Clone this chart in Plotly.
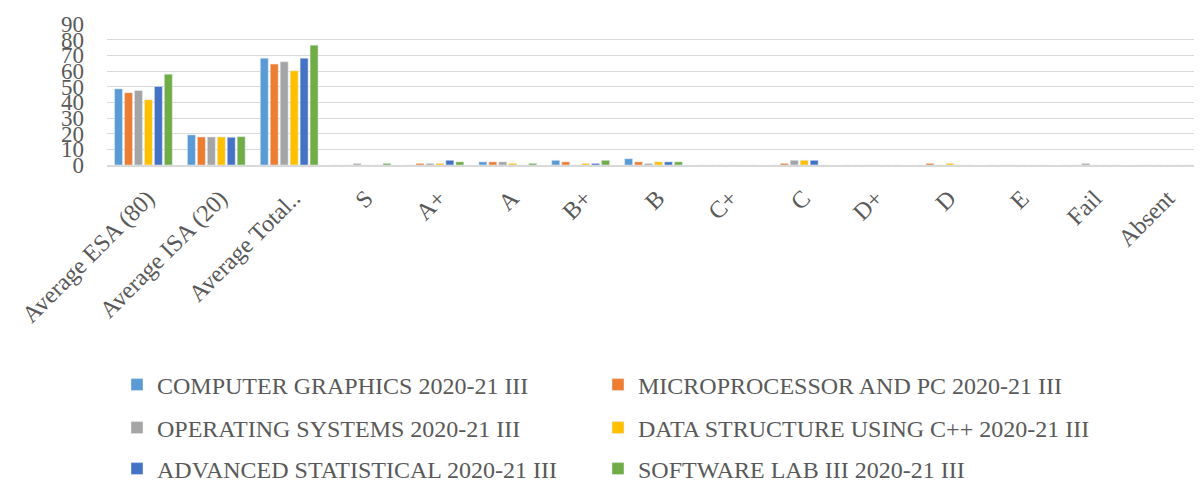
import plotly.graph_objects as go

categories = ["Average ESA (80)", "Average ISA (20)", "Average Total..", "S", "A+", "A",
              "B+", "B", "C+", "C", "D+", "D", "E", "Fail", "Absent"]

series_names = [
    "COMPUTER GRAPHICS 2020-21 III",
    "MICROPROCESSOR AND PC 2020-21 III",
    "OPERATING SYSTEMS 2020-21 III",
    "DATA STRUCTURE USING C++ 2020-21 III",
    "ADVANCED STATISTICAL 2020-21 III",
    "SOFTWARE LAB III 2020-21 III",
]

computer_graphics = [48.6, 19.2, 68.2, 0, 0, 2, 3, 4, 0, 0, 0, 0, 0, 0, 0]
microprocessor = [46.1, 17.9, 64.4, 0, 1, 2, 2, 2, 0, 1, 0, 1, 0, 0, 0]
operating_systems = [47.5, 17.9, 65.9, 1, 1, 2, 0, 1, 0, 3, 0, 0, 0, 1, 0]
data_structure = [41.6, 17.9, 60.1, 0, 1, 1, 1, 2, 0, 3, 0, 1, 0, 0, 0]
advanced_statistical = [50.1, 17.7, 68.2, 0, 3, 0, 1, 2, 0, 3, 0, 0, 0, 0, 0]
software_lab = [58.0, 18.1, 76.5, 1, 2, 1, 3, 2, 0, 0, 0, 0, 0, 0, 0]

values = [computer_graphics, microprocessor, operating_systems,
          data_structure, advanced_statistical, software_lab]
colors = ["#5B9BD5", "#ED7D31", "#A5A5A5", "#FFC000", "#4472C4", "#70AD47"]

FONT = "Liberation Serif, Times New Roman, serif"
GREY = "#595959"

# page body has an 8px margin: figure is drawn from (8, 8)
OFF = 8
W, H = 1202 - OFF, 482 - OFF
ml, mr, mt, mb = 107 - OFF, 2, 24 - OFF, H - (165 - OFF)

def cx(px):
    return (px - OFF) / W

def cy(py):
    return 1 - (py - OFF) / H

legend_ids = ["legend", "legend2", "legend3", "legend4", "legend5", "legend6"]
col_x = [117, 598]
row_y = [385, 428, 469]

fig = go.Figure()
for name, vals, col, lg in zip(series_names, values, colors, legend_ids):
    fig.add_trace(go.Bar(x=categories, y=vals, name=name, marker_color=col,
                         legend=lg, showlegend=True))

legends = {}
for i, lg in enumerate(legend_ids):
    legends[lg] = dict(
        x=cx(col_x[i % 2]), y=cy(row_y[i // 2]),
        xref="container", yref="container",
        xanchor="left", yanchor="middle",
        itemwidth=30, font=dict(family=FONT, size=24, color=GREY),
        bgcolor="rgba(0,0,0,0)", itemclick=False,
    )

fig.update_layout(
    width=W, height=H,
    showlegend=True,
    margin=dict(l=ml, r=mr, t=mt, b=mb, autoexpand=False),
    paper_bgcolor="white", plot_bgcolor="white",
    barmode="group", bargap=0.18, bargroupgap=0.2,
    font=dict(family=FONT, color=GREY),
    xaxis=dict(tickangle=-45, tickfont=dict(family=FONT, size=24, color=GREY),
               showline=True, linecolor="#D9D9D9", linewidth=1.5,
               showgrid=False, ticks="", automargin=False,
               ticklabelstandoff=8, ticklabelshift=4),
    yaxis=dict(range=[0, 90], dtick=10, tick0=0,
               tickfont=dict(family=FONT, size=23, color=GREY),
               showgrid=True, gridcolor="#D9D9D9", gridwidth=1.2,
               zeroline=False, showline=False, ticks="", ticklabelstandoff=22,
               automargin=False),
    **legends,
)

fig.write_html("out.html")
